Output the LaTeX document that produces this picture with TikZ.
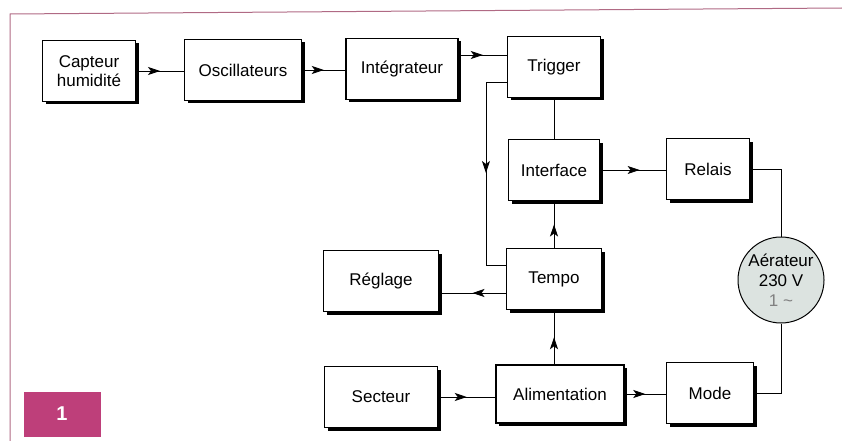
\documentclass[tikz,border=0pt]{standalone}
\usepackage{fontspec}
\setmainfont{Liberation Sans}
\usetikzlibrary{positioning,shadows,decorations.markings,arrows.meta}
\definecolor{framecol}{HTML}{B06A84}
\definecolor{badgecol}{HTML}{BE3F7A}
\definecolor{motorcol}{HTML}{DCE3E0}
\begin{document}
\begin{tikzpicture}[x=1pt,y=-1pt,
    block/.style={draw,line width=1.1pt,fill=white,minimum height=61pt,align=center,
      font=\fontsize{17}{19}\selectfont,
      drop shadow={shadow xshift=3pt,shadow yshift=-3pt,fill=black,opacity=1}},
    wire/.style={draw,line width=0.8pt},
    midarrow/.style={wire,postaction={decorate},decoration={markings,
      mark=at position #1 with {\arrow{Stealth[length=12pt,width=8pt,inset=3pt]}}}},
    midarrow/.default=0.5]
    \useasboundingbox (0,0) rectangle (842,441);
    % frame and figure number
    \draw[framecol,line width=1pt] (10,441) -- (10,14) -- (842,8);
    \node[fill=badgecol,minimum width=77pt,minimum height=45pt,text=white,
      font=\bfseries\fontsize{20}{22}\selectfont] (fig) at (62,414) {1};
    % blocks
    \node[block,minimum width=93pt] (capteur) at (89,71) {Capteur\\humidité};
    \node[block,minimum width=117pt] (oscill) at (243,70) {Oscillateurs};
    \node[block,minimum width=112pt] (integr) at (402,69) {Intégrateur};
    \node[block,minimum width=93pt] (trigger) at (554,67) {Trigger};
    \node[block,minimum width=91pt] (interface) at (554,170) {Interface};
    \node[block,minimum width=83pt] (relais) at (708,169) {Relais};
    \node[block,minimum width=95pt] (tempo) at (554,279) {Tempo};
    \node[block,minimum width=115pt] (reglage) at (381,281) {Réglage};
    \node[block,minimum width=113pt] (secteur) at (381,397) {Secteur};
    \node[block,minimum width=128pt,minimum height=58pt] (alim) at (560,394) {Alimentation};
    \node[block,minimum width=87pt] (mode) at (710,393) {Mode};
    \node[draw,circle,line width=1pt,fill=motorcol,minimum size=86pt,inner sep=0pt,align=center,
      font=\fontsize{17}{20}\selectfont] (aerateur) at (781,280)
      {Aérateur\\230 V\\\textcolor{gray}{1 \textasciitilde}};
    % top row
    \draw[midarrow] (capteur.east) -- (capteur.east -| oscill.west);
    \draw[midarrow] (oscill.east) -- (oscill.east -| integr.west);
    \coordinate (trigin) at ([yshift=12pt]trigger.west);
    \draw[midarrow] (integr.east |- trigin) -- (trigin);
    % trigger back to tempo
    \coordinate (trigout) at ([yshift=-15pt]trigger.west);
    \coordinate (tempoin) at ([yshift=14pt]tempo.west);
    \draw[midarrow] (trigout) -- ++(-21,0) |- (tempoin);
    \draw[wire] (trigger) -- (interface);
    \draw[midarrow=0.6] (interface.east) -- (interface.east -| relais.west);
    \draw[midarrow] (tempo) -- (interface);
    \coordinate (tempoout) at ([yshift=-14pt]tempo.west);
    \draw[midarrow] (tempoout) -- (tempoout -| reglage.east);
    % supply
    \draw[midarrow] (alim.north -| tempo.south) -- (tempo.south);
    \draw[midarrow] (secteur.east) -- (secteur.east -| alim.west);
    \draw[midarrow] (alim.east) -- (alim.east -| mode.west);
    % fan loop
    \draw[wire] (relais.east) -| (aerateur.north);
    \draw[wire] (aerateur.south) |- (mode.east);
\end{tikzpicture}
\end{document}
